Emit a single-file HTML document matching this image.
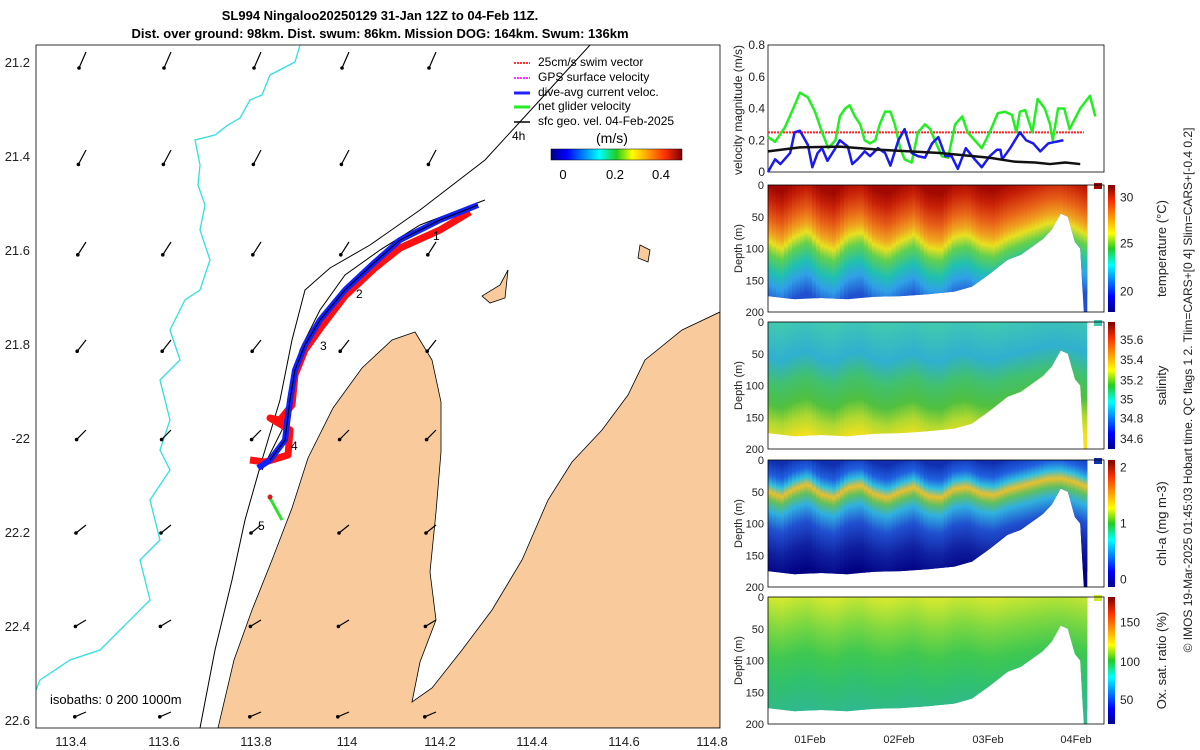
<!DOCTYPE html>
<html><head><meta charset="utf-8"><style>
body{margin:0;background:#fff;}
svg{font-family:"Liberation Sans",sans-serif;display:block}
</style></head><body>
<svg width="1200" height="750" viewBox="0 0 1200 750">
<defs>
<linearGradient id="jet" x1="0" x2="1" y1="0" y2="0">
<stop offset="0" stop-color="#00008f"/><stop offset="0.12" stop-color="#0000ff"/><stop offset="0.37" stop-color="#00ffff"/><stop offset="0.5" stop-color="#22cc22"/><stop offset="0.62" stop-color="#ffff00"/><stop offset="0.87" stop-color="#ff3000"/><stop offset="1" stop-color="#800000"/></linearGradient>
<linearGradient id="jetv" x1="0" x2="0" y1="1" y2="0">
<stop offset="0" stop-color="#00008f"/><stop offset="0.12" stop-color="#0000ff"/><stop offset="0.37" stop-color="#00ffff"/><stop offset="0.5" stop-color="#22cc22"/><stop offset="0.62" stop-color="#ffff00"/><stop offset="0.87" stop-color="#ff3000"/><stop offset="1" stop-color="#800000"/></linearGradient>
<linearGradient id="gT" x1="0" x2="0" y1="0" y2="1">
<stop offset="0" stop-color="#a00800"/><stop offset="0.12" stop-color="#c82008"/><stop offset="0.28" stop-color="#e86018"/><stop offset="0.4" stop-color="#f0a020"/><stop offset="0.48" stop-color="#e8e020"/><stop offset="0.58" stop-color="#60d050"/><stop offset="0.72" stop-color="#20c0b0"/><stop offset="0.84" stop-color="#30a0e8"/><stop offset="1" stop-color="#2050d0"/></linearGradient>
<linearGradient id="gS" x1="0" x2="0" y1="0" y2="1">
<stop offset="0" stop-color="#40c8b0"/><stop offset="0.3" stop-color="#30b0d0"/><stop offset="0.5" stop-color="#40c070"/><stop offset="0.7" stop-color="#50c040"/><stop offset="0.85" stop-color="#b0d830"/><stop offset="1" stop-color="#f0e020"/></linearGradient>
<linearGradient id="gC" x1="0" x2="0" y1="0" y2="1">
<stop offset="0" stop-color="#1030b0"/><stop offset="0.12" stop-color="#2060e0"/><stop offset="0.2" stop-color="#30c0e0"/><stop offset="0.27" stop-color="#e8c030"/><stop offset="0.34" stop-color="#60c060"/><stop offset="0.43" stop-color="#30b0e0"/><stop offset="0.58" stop-color="#2050d0"/><stop offset="0.78" stop-color="#1020a0"/><stop offset="1" stop-color="#000080"/></linearGradient>
<linearGradient id="gO" x1="0" x2="0" y1="0" y2="1">
<stop offset="0" stop-color="#d0e830"/><stop offset="0.25" stop-color="#80d840"/><stop offset="0.5" stop-color="#40c850"/><stop offset="0.75" stop-color="#30c070"/><stop offset="1" stop-color="#30b890"/></linearGradient>
<clipPath id="mapclip"><rect x="36" y="45" width="684" height="683"/></clipPath>
</defs>

<text x="380" y="20" font-size="13" font-weight="bold" text-anchor="middle">SL994 Ningaloo20250129 31-Jan 12Z to 04-Feb 11Z.</text>
<text x="380" y="38" font-size="13" font-weight="bold" text-anchor="middle">Dist. over ground: 98km. Dist. swum: 86km. Mission DOG: 164km. Swum: 136km</text>

<g id="map">
<g clip-path="url(#mapclip)">
<path fill="#f9cb9c" stroke="#000" stroke-width="0.8" d="M415,332 L392,340 L362,368 L333,408 L308,458 L292,508 L272,560 L252,610 L234,660 L218,728 L720,728 L720,312 L682,330 L645,360 L628,395 L602,430 L572,462 L548,500 L522,560 L492,610 L462,650 L432,688 L412,702 L420,662 L436,620 L430,572 L436,512 L441,452 L441,402 L432,360 Z"/>
<path d="M500,285 L508,270 L505,298 L490,303 L482,296 Z" fill="#f9cb9c" stroke="#000" stroke-width="0.8"/>
<path d="M640,245 L650,250 L648,262 L638,258 Z" fill="#f9cb9c" stroke="#000" stroke-width="0.8"/>
<path fill="none" stroke="#30e0e0" stroke-width="1.3" d="M300,45 L295,62 L270,75 L262,95 L250,100 L240,118 L228,125 L215,135 L195,140 L200,165 L198,185 L205,205 L200,230 L210,260 L200,290 L185,300 L170,330 L180,360 L160,380 L170,420 L160,450 L170,470 L150,500 L160,540 L140,560 L150,600 L120,630 L100,650 L70,660 L40,680 L36,690"/>
<path fill="none" stroke="#000" stroke-width="1" d="M590,45 L540,100 L485,160 L420,210 L370,245 L330,268 L305,290 L292,340 L280,400 L262,460 L245,520 L232,580 L215,650 L200,728"/>
<path fill="none" stroke="#000" stroke-width="1" d="M485,200 L420,225 L380,250 L345,275 L320,310 L300,350 L292,390 L282,430 L262,470"/>
<path fill="none" stroke="#ff1010" stroke-width="7" stroke-linejoin="round" d="M470,212 L440,230 L400,248 L375,268 L345,296 L322,326 L305,350 L295,375 L292,405 L280,420 L270,418 L290,430 L288,455 L265,462 L250,460"/>
<path fill="none" stroke="#1020ff" stroke-width="6" stroke-linejoin="round" d="M478,205 L440,220 L400,240 L375,262 L345,290 L320,320 L305,345 L295,370 L290,400 L285,440 L270,460 L258,468"/>
<path d="M478,205 L440,220 L400,240 L375,262 L345,290 L320,320 L305,345 L295,370 L290,400 L285,440 L270,460" fill="none" stroke="#000" stroke-width="1"/>
<path d="M270,498 L282,520" stroke="#30e030" stroke-width="3"/>
<circle cx="270" cy="497" r="2.5" fill="#d02020"/>
<g font-size="12"><text x="433" y="240">1</text><text x="356" y="298">2</text><text x="320" y="350">3</text><text x="291" y="450">4</text><text x="258" y="530">5</text></g>
<g id="arrows"></g>
</g>
<rect x="36" y="45" width="684" height="683" fill="none" stroke="#000" stroke-width="0.8"/>
<g font-size="13" fill="#222" text-anchor="end">
<text x="30" y="67">21.2</text><text x="30" y="161">21.4</text><text x="30" y="255">21.6</text><text x="30" y="349">21.8</text><text x="30" y="443">-22</text><text x="30" y="537">22.2</text><text x="30" y="631">22.4</text><text x="30" y="725">22.6</text></g>
<g font-size="13" fill="#222" text-anchor="middle">
<text x="71" y="746">113.4</text><text x="164" y="746">113.6</text><text x="256" y="746">113.8</text><text x="347" y="746">114</text><text x="440" y="746">114.2</text><text x="532" y="746">114.4</text><text x="624" y="746">114.6</text><text x="712" y="746">114.8</text></g>
<text x="50" y="704" font-size="13">isobaths: 0   200  1000m</text>
<g font-size="12">
<line x1="514" y1="63" x2="530" y2="63" stroke="#f33" stroke-width="2" stroke-dasharray="2,1"/><text x="538" y="66">25cm/s swim vector</text>
<line x1="514" y1="78" x2="530" y2="78" stroke="#f3f" stroke-width="2" stroke-dasharray="2,1"/><text x="538" y="81">GPS surface velocity</text>
<line x1="514" y1="93" x2="530" y2="93" stroke="#22f" stroke-width="3"/><text x="538" y="96">dive-avg current veloc.</text>
<line x1="514" y1="107" x2="530" y2="107" stroke="#2e2" stroke-width="3"/><text x="538" y="110">net glider velocity</text>
<line x1="514" y1="122" x2="530" y2="122" stroke="#000" stroke-width="1.5"/><text x="538" y="125">sfc geo. vel. 04-Feb-2025</text>
<text x="512" y="140">4h</text>
<text x="596" y="143" font-size="14">(m/s)</text>
<rect x="551" y="149" width="131" height="11" fill="url(#jet)" stroke="#000" stroke-width="0.5"/>
<text x="563" y="179" font-size="13" text-anchor="middle">0</text><text x="615" y="179" font-size="13" text-anchor="middle">0.2</text><text x="661" y="179" font-size="13" text-anchor="middle">0.4</text>
</g>
</g>

<g id="vel">
<rect x="768" y="45" width="336" height="127" fill="#fff" stroke="#000" stroke-width="0.8"/>
<g id="velticks" font-size="12" fill="#222" text-anchor="end"></g>
<text transform="translate(742,110) rotate(-90)" font-size="12" text-anchor="middle" fill="#222">velocity magnitude (m/s)</text>
<g id="vellines"></g>
</g>

<g id="panels"></g>

<g font-size="11" fill="#222" text-anchor="middle">
<text x="810" y="743">01Feb</text><text x="899" y="743">02Feb</text><text x="988" y="743">03Feb</text><text x="1076" y="743">04Feb</text></g>
<text transform="translate(1192,390) rotate(-90)" font-size="12" text-anchor="middle" fill="#222">© IMOS 19-Mar-2025 01:45:03 Hobart time. QC flags 1  2. Tlim=CARS+[0 4] Slim=CARS+[-0.4 0.2]</text>
</svg>
<script>
// velocity series (days since 31-Jan 12Z, m/s)
const greenDays=[0,.08,.19,.30,.36,.45,.53,.61,.68,.76,.81,.87,.92,.98,1.04,1.09,1.15,1.21,1.26,1.32,1.38,1.43,1.49,1.54,1.62,1.69,1.77,1.83,1.88,1.96,2.03,2.11,2.19,2.25,2.33,2.41,2.50,2.59,2.67,2.75,2.80,2.84,2.90,2.98,3.04,3.12,3.18,3.21,3.27,3.34,3.40,3.52,3.63,3.69];
const greenVals=[.22,.19,.28,.42,.50,.47,.38,.25,.15,.20,.35,.40,.42,.35,.30,.20,.18,.20,.30,.38,.38,.30,.15,.08,.06,.25,.30,.27,.20,.10,.09,.30,.35,.25,.20,.15,.25,.37,.38,.36,.25,.38,.39,.25,.46,.40,.30,.20,.40,.40,.27,.40,.48,.35];
const blueDays=[0,.08,.14,.25,.30,.36,.45,.50,.56,.61,.67,.76,.81,.90,.95,1.01,1.09,1.15,1.24,1.32,1.38,1.47,1.54,1.62,1.69,1.77,1.85,1.92,2.00,2.07,2.14,2.23,2.33,2.41,2.50,2.58,2.62,2.64,2.73,2.84,2.91,2.99,3.07,3.16,3.24,3.33];
const blueVals=[0,.08,.05,.12,.25,.26,.17,.03,.12,.15,.07,.15,.20,.16,.05,.08,.13,.10,.15,.12,.04,.20,.27,.12,.10,.09,.18,.22,.10,.10,.02,.15,.08,.03,.10,.14,.14,.08,.15,.25,.20,.18,.13,.18,.19,.20];
const geoDays=[0,.36,.81,1.26,1.94,2.50,2.78,3.01,3.18,3.35,3.52];
const geoVals=[.13,.155,.16,.14,.12,.09,.065,.06,.05,.06,.05];
const swimSpeed=0.25;
const velTicks=[0,0.2,0.4,0.6,0.8];
// deepest sampled depth per time (m)
const profDays=[0,.3,.6,.9,1.2,1.5,1.8,2.1,2.3,2.5,2.7,2.85,3.0,3.1,3.2,3.3,3.38,3.46,3.52,3.56,3.6];
const profDepth=[175,180,178,180,176,175,172,168,160,140,118,110,95,85,70,45,50,90,100,200,200];
// vertical displacement of water-column structure (m), every 0.15 day
const waveDays=[0,.15,.3,.45,.6,.75,.9,1.05,1.2,1.35,1.5,1.65,1.8,1.95,2.1,2.25,2.4,2.55,2.7,2.85,3.0,3.15,3.3,3.45,3.6];
const waveDisp=[0,12,-6,-16,6,14,-8,-14,6,14,0,-10,10,14,-6,-10,4,8,-4,-12,-20,-28,-30,-22,-10];
const panelTitles=["temperature (°C)","salinity","chl-a (mg m-3)","Ox. sat. ratio (%)"];
const panelTicks=[["30","25","20"],["35.6","35.4","35.2","35","34.8","34.6"],["2","1","0"],["150","100","50"]];
const panelTickFrac=[[0.1,0.46,0.84],[0.14,0.3,0.46,0.61,0.76,0.92],[0.06,0.5,0.94],[0.2,0.51,0.81]];
const depthTicks=[0,50,100,150,200];
const NS="http://www.w3.org/2000/svg";
const X0=768,PXD=88.7;
const xs=d=>X0+d*PXD;
const vy=v=>172-v*158.75;
function mk(t,a,p){const e=document.createElementNS(NS,t);for(const k in a)e.setAttribute(k,a[k]);(p||document.querySelector('svg')).appendChild(e);return e;}
const vt=document.getElementById('velticks');
velTicks.forEach(v=>{const t=mk('text',{x:765,y:vy(v)+4},vt);t.textContent=v===0?'0':v.toFixed(1);

});
const vl=document.getElementById('vellines');
const ln=mk('line',{x1:xs(0),x2:xs(3.56),y1:vy(swimSpeed),y2:vy(swimSpeed),stroke:'#f22',"stroke-width":2,"stroke-dasharray":"2,1"},vl);


function series(d,v,c,w,name){const p=mk('polyline',{points:d.map((dd,i)=>xs(dd)+','+vy(v[i])).join(' '),fill:'none',stroke:c,"stroke-width":w,"stroke-linejoin":"round"},vl);

}
series(greenDays,greenVals,'#22ee22',2.5,'net-glider-velocity-line');
series(blueDays,blueVals,'#1a1aee',2.5,'current-velocity-line');
series(geoDays,geoVals,'#111',2.5,'geostrophic-velocity-line');
// map arrows
const ar=document.getElementById('arrows');
const cols=[82,167,257,345,432],rows=[62,160,252,350,440,535,630,722];
rows.forEach((y,ri)=>cols.forEach((x,ci)=>{const dx=-(7+ri*0.6),dy=(16-ri*1.6);
const a=mk('line',{x1:x+4,y1:y-10,x2:x+4+dx,y2:y-10+dy,stroke:'#000',"stroke-width":1.2},ar);


mk('circle',{cx:x+4+dx,cy:y-10+dy,r:1.8,fill:'#000'},ar);}));
// heatmap panels
const pTop=[185,322,460,597],pH=127,grads=['gT','gS','gC','gO'],topCol=['#a00800','#40c8b0','#1030b0','#d0e830'],botCol=['#2050d0','#f0e020','#000080','#30b890'],amp=[1,0.6,0.7,0.5];
const pg=document.getElementById('panels');
function interp(xa,ya,x){for(let k=1;k<xa.length;k++){if(x<=xa[k]){const t=(x-xa[k-1])/(xa[k]-xa[k-1]);return ya[k-1]+t*(ya[k]-ya[k-1]);}}return ya[ya.length-1];}
pTop.forEach((top,i)=>{
 const g=mk('g',{},pg);
 
 
 const dy=d=>top+d/200*pH;
 let path='M'+xs(0)+','+top+' ';
 profDays.forEach((d,k)=>{path+='L'+xs(d)+','+dy(profDepth[k])+' ';});
 path+='L'+xs(3.6)+','+top+' Z';
 const cp=mk('clipPath',{id:'cp'+i},g);
 mk('path',{d:path},cp);
 const hg=mk('g',{"clip-path":'url(#cp'+i+')'},g);
 
 
 mk('rect',{x:768,y:top,width:330,height:pH,fill:botCol[i]},hg);
 const N=80,w=xs(3.6)-768;
 for(let s=0;s<N;s++){const d=3.6*(s+0.5)/N;const off=interp(waveDays,waveDisp,d)*amp[i];
  const sx=768+w*s/N;
  mk('rect',{x:sx,y:top,width:w/N+0.6,height:Math.max(0,dy(off)-top)+1,fill:topCol[i]},hg);
  mk('rect',{x:sx,y:dy(off),width:w/N+0.6,height:pH*0.92,fill:'url(#'+grads[i]+')'},hg);}
 mk('rect',{x:1094,y:top-2,width:8,height:6,fill:topCol[i]},g);
 mk('rect',{x:768,y:top,width:336,height:pH,fill:'none',stroke:'#000',"stroke-width":0.8},g);
 depthTicks.forEach(d=>{const t=mk('text',{x:764,y:dy(d)+4,"font-size":11,"text-anchor":"end",fill:'#222'},g);t.textContent=d;});
 const yt=mk('text',{transform:`translate(742,${top+pH/2}) rotate(-90)`,"font-size":11,"text-anchor":"middle",fill:'#222'},g);yt.textContent='Depth (m)';
 const cb=mk('rect',{x:1108,y:top,width:7,height:pH,fill:'url(#jetv)'},g);
 
 
 panelTicks[i].forEach((s,k)=>{const t=mk('text',{x:1120,y:top+panelTickFrac[i][k]*pH+4,"font-size":12,fill:'#222'},g);t.textContent=s;});
 const ct=mk('text',{transform:`translate(1166,${top+pH/2}) rotate(-90)`,"font-size":13,"text-anchor":"middle",fill:'#222'},g);ct.textContent=panelTitles[i];
});
</script>
</body></html>
